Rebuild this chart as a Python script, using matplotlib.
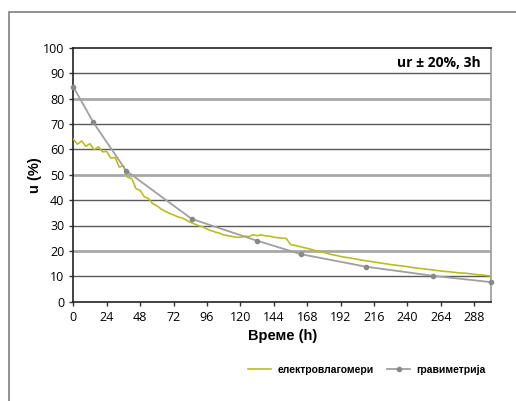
import matplotlib
matplotlib.use("Agg")
import matplotlib.pyplot as plt
from matplotlib.patches import Rectangle

# електровлагомери - readings every 3 h
t_el = list(range(0, 301, 3))
u_el = [64.0, 62.0, 63.3, 61.2, 62.2, 59.8, 61.0, 59.0, 59.2, 56.5,
        56.8, 53.0, 53.5, 49.0, 48.5, 44.5, 43.8, 41.3, 40.6, 38.6,
        37.8, 36.5, 35.6, 34.8, 34.2, 33.4, 33.0, 32.2, 31.3, 30.6,
        29.9, 29.5, 28.6, 28.0, 27.4, 27.0, 26.3, 26.0, 25.7, 25.4,
        25.3, 25.8, 25.6, 26.4, 26.0, 26.3, 25.9, 25.8, 25.4, 25.2,
        25.0, 24.9, 22.5, 22.2, 21.8, 21.4, 21.0, 20.6, 20.1, 19.8,
        19.4, 18.9, 18.5, 18.2, 17.8, 17.5, 17.3, 17.0, 16.7, 16.4,
        16.1, 15.9, 15.6, 15.4, 15.1, 14.9, 14.6, 14.4, 14.2, 14.0,
        13.8, 13.5, 13.3, 13.1, 12.9, 12.7, 12.5, 12.3, 12.1, 11.9,
        11.8, 11.6, 11.4, 11.3, 11.2, 11.0, 10.8, 10.6, 10.5, 10.3,
        10.1]

# гравиметрија
t_gr = [0, 14.4, 37.9, 85, 132, 163.6, 210, 258.4, 300]
u_gr = [84.6, 70.6, 51.6, 32.6, 24.0, 18.7, 13.8, 10.2, 7.7]

x_ticks = list(range(0, 289, 24))
y_ticks = list(range(0, 101, 10))

fig = plt.figure(figsize=(5.16, 4.01), dpi=100)
fig.patches.append(Rectangle((9 / 516, -0.1), 1.2, 1 - 12 / 401 + 0.1,
                             transform=fig.transFigure, fill=False,
                             edgecolor="#7f7f7f", linewidth=1.2))

ax = fig.add_axes([73.3 / 516, 1 - 301.7 / 401, (491 - 73.3) / 516, (301.7 - 47.7) / 401])

# horizontal grid lines
for y in y_ticks[1:-1]:
    if y in (20, 50, 80):
        ax.axhline(y, color="#a8a8a8", linewidth=2.0, zorder=1)
    else:
        ax.axhline(y, color="#5a5a5a", linewidth=1.0, zorder=1)

ax.plot(t_el, u_el, color="#b8be22", linewidth=1.2, label="електровлагомери", zorder=3)
ax.plot(t_gr, u_gr, color="#a0a0a0", linewidth=1.3, marker="o", markersize=3,
        markerfacecolor="#888888", markeredgecolor="#888888",
        label="гравиметрија", zorder=4, clip_on=False)

ax.set_xlim(0, 300)
ax.set_ylim(0, 100)
ax.set_xticks(x_ticks)
ax.set_yticks(y_ticks)
ax.tick_params(labelsize=9, length=3, color="#333333", width=1)
for lab in ax.get_xticklabels() + ax.get_yticklabels():
    lab.set_family("Open Sans")

for s in ["left", "bottom", "top"]:
    ax.spines[s].set_color("#222222")
    ax.spines[s].set_linewidth(1.2)
ax.spines["right"].set_color("#999999")
ax.spines["right"].set_linewidth(1.2)

ax.set_xlabel("Време (h)", fontsize=10.5, fontweight="bold", labelpad=4,
              family="Liberation Sans")
ax.set_ylabel("u (%)", fontsize=10.5, fontweight="bold", labelpad=1,
              family="Liberation Sans")

ax.text(0.975, 0.94, "ur ± 20%, 3h", transform=ax.transAxes, ha="right", va="center",
        fontsize=10, fontweight="bold", family="Open Sans")

fig.legend(loc="center", bbox_to_anchor=(367 / 516, 1 - 370 / 401), ncol=2, frameon=False,
           prop={"size": 7.5, "weight": "bold", "family": "Liberation Sans"},
           handlelength=2.2, columnspacing=1.3, handletextpad=0.6)

fig.savefig("out.png", dpi=100)
